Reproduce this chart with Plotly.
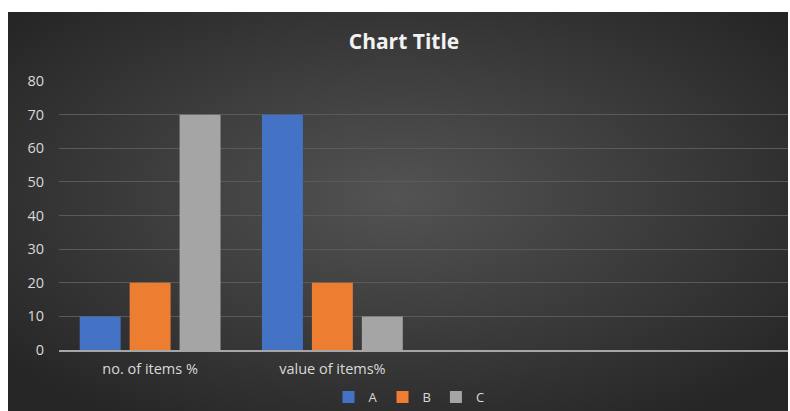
import base64
import plotly.graph_objects as go

categories = ["no. of items %", "value of items%"]
series_names = ["A", "B", "C"]
values_a = [10, 70]
values_b = [20, 20]
values_c = [70, 10]
colors = ["#4472C4", "#ED7D31", "#A5A5A5"]
y_ticks = [0, 10, 20, 30, 40, 50, 60, 70, 80]

W, H = 790, 411
ML, MR, MT, MB = 59, 2, 81, 61
PW, PH = W - ML - MR, H - MT - MB

svg = (
    '<svg xmlns="http://www.w3.org/2000/svg" width="780" height="399" viewBox="0 0 780 399" preserveAspectRatio="none">'
    '<defs><radialGradient id="g" cx="50%" cy="45%" r="65%">'
    '<stop offset="0%" stop-color="#535353"/>'
    '<stop offset="100%" stop-color="#262626"/>'
    '</radialGradient></defs>'
    '<rect width="780" height="399" fill="url(#g)"/></svg>'
)
bg_src = "data:image/svg+xml;base64," + base64.b64encode(svg.encode()).decode()

# window pixel -> paper coords
px = lambda v: (v - ML) / PW
py = lambda v: (H - MB - v) / PH
bx0, bx1, by0, by1 = 8, 788, 12, 420

fig = go.Figure()
for name, vals, col in zip(series_names, [values_a, values_b, values_c], colors):
    fig.add_trace(go.Bar(name=name, x=categories, y=vals, marker=dict(color=col, line=dict(width=0))))

fig.update_layout(
    width=W, height=H,
    margin=dict(l=ML, r=MR, t=MT, b=MB, autoexpand=False),
    paper_bgcolor="white",
    plot_bgcolor="rgba(0,0,0,0)",
    barmode="group",
    bargap=0.178,
    bargroupgap=0.18,
    font=dict(family="Open Sans", size=14, color="#d9d9d9"),
    title=dict(text="<b>Chart Title</b>", x=404 / W, xanchor="center",
               y=1 - 42 / H, yanchor="middle",
               font=dict(family="Open Sans", size=21, color="#f2f2f2")),
    images=[dict(source=bg_src, xref="paper", yref="paper", x=px(bx0), y=py(by0),
                 sizex=px(bx1) - px(bx0), sizey=py(by0) - py(by1), sizing="stretch",
                 xanchor="left", yanchor="top", layer="below")],
    legend=dict(orientation="h", x=px(409), xanchor="center", y=py(397), yanchor="middle",
                font=dict(size=13, color="#d9d9d9"), bgcolor="rgba(0,0,0,0)",
                itemwidth=30, traceorder="normal"),
    xaxis=dict(type="category", range=[-0.5, 3.5], showgrid=False, showline=True,
               linecolor="#a6a6a6", linewidth=2, ticks="", ticklabelstandoff=5,
               tickfont=dict(size=14.5, color="#d9d9d9"), fixedrange=True, automargin=False),
    yaxis=dict(range=[0, 80], tickvals=y_ticks, showgrid=True, gridcolor="#5a5a5a", gridwidth=1,
               zeroline=False, showline=False, ticks="", ticklabelstandoff=14,
               tickfont=dict(size=14.5, color="#d9d9d9"), fixedrange=True, automargin=False),
)

fig.write_html(
    "out.html",
    config={"displayModeBar": False},
    post_script="document.body.style.margin='0';document.body.style.overflow='hidden';",
)
